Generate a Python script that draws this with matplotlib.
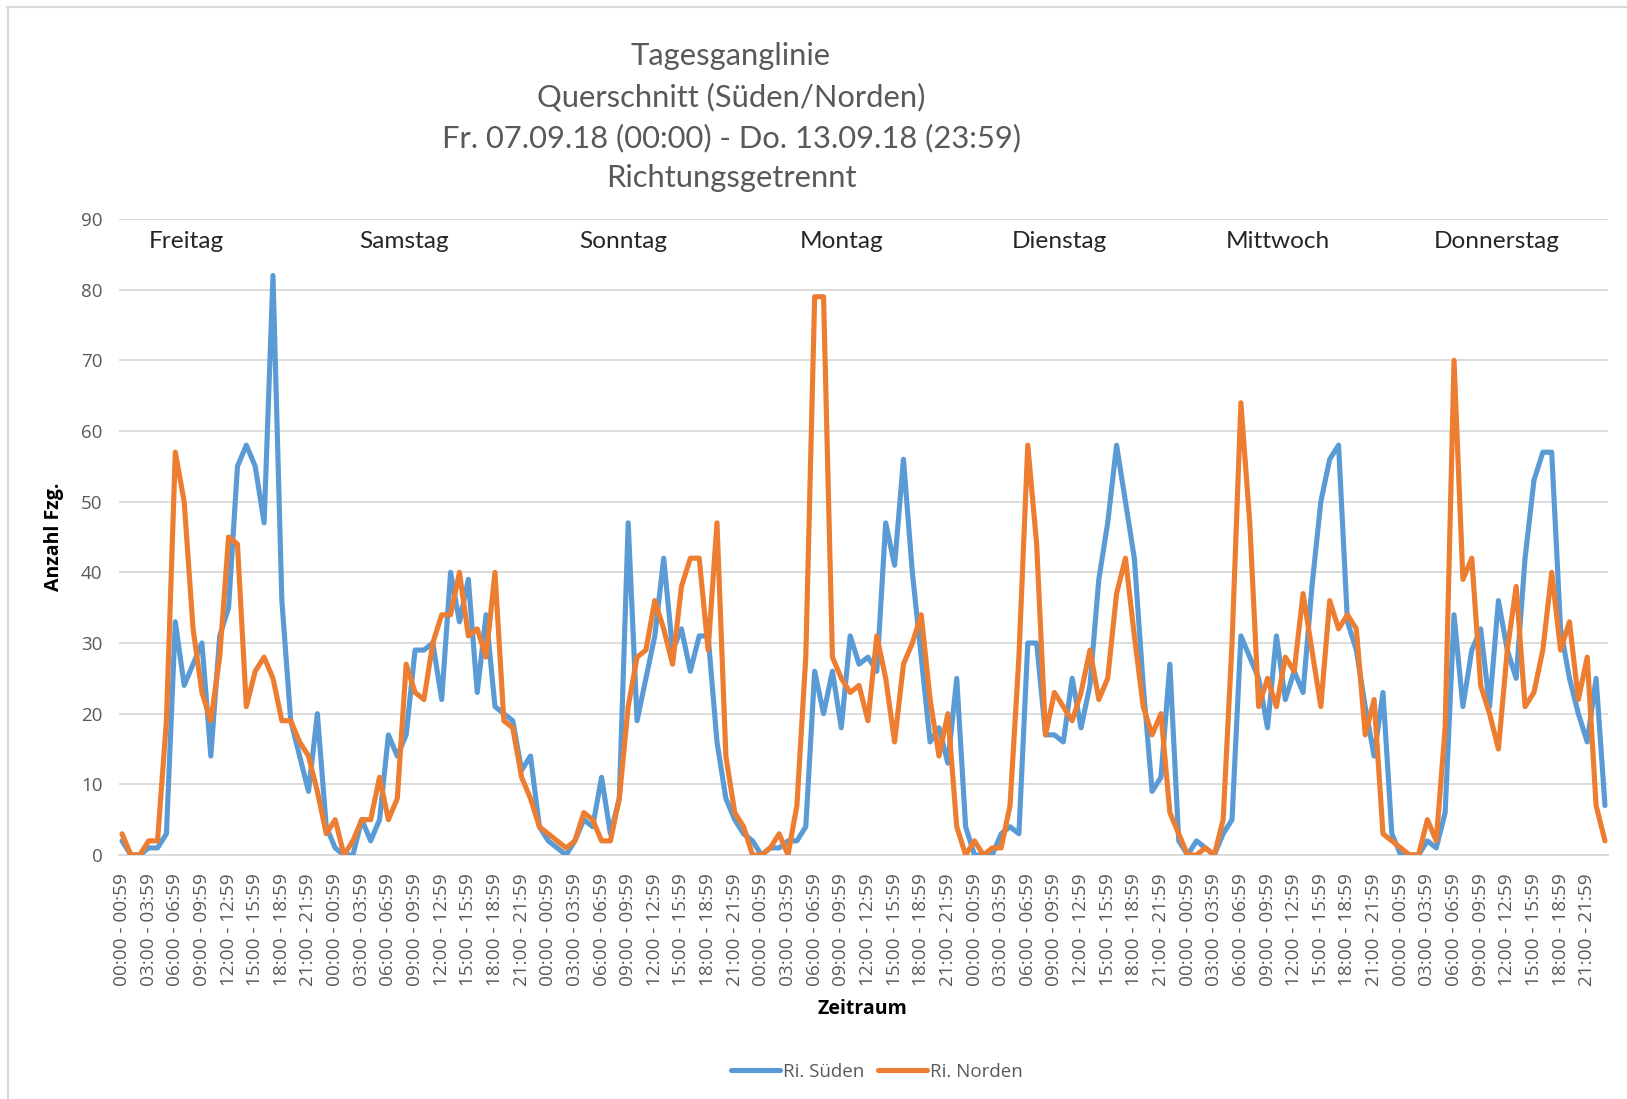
import matplotlib
matplotlib.use("Agg")
import matplotlib.pyplot as plt
from matplotlib.lines import Line2D

# ---------------- data ----------------
days = ["Freitag", "Samstag", "Sonntag", "Montag", "Dienstag", "Mittwoch", "Donnerstag"]
hours = [f"{h:02d}:00 - {h:02d}:59" for h in range(24)]
categories = hours * 7

sueden = [
    2, 0, 0, 1, 1, 3, 33, 24, 27, 30, 14, 31, 35, 55, 58, 55, 47, 82, 36, 19, 14, 9, 20, 4,
    1, 0, 0, 5, 2, 5, 17, 14, 17, 29, 29, 30, 22, 40, 33, 39, 23, 34, 21, 20, 19, 12, 14, 4,
    2, 1, 0, 2, 5, 4, 11, 3, 8, 47, 19, 25, 31, 42, 29, 32, 26, 31, 31, 16, 8, 5, 3, 2,
    0, 1, 1, 2, 2, 4, 26, 20, 26, 18, 31, 27, 28, 26, 47, 41, 56, 40, 28, 16, 18, 13, 25, 4,
    0, 0, 0, 3, 4, 3, 30, 30, 17, 17, 16, 25, 18, 24, 39, 47, 58, 50, 42, 24, 9, 11, 27, 2,
    0, 2, 1, 0, 3, 5, 31, 28, 25, 18, 31, 22, 26, 23, 38, 50, 56, 58, 33, 29, 21, 14, 23, 3,
    0, 0, 0, 2, 1, 6, 34, 21, 29, 32, 21, 36, 29, 25, 42, 53, 57, 57, 32, 25, 20, 16, 25, 7,
]
norden = [
    3, 0, 0, 2, 2, 19, 57, 50, 32, 23, 19, 28, 45, 44, 21, 26, 28, 25, 19, 19, 16, 14, 9, 3,
    5, 0, 2, 5, 5, 11, 5, 8, 27, 23, 22, 30, 34, 34, 40, 31, 32, 28, 40, 19, 18, 11, 8, 4,
    3, 2, 1, 2, 6, 5, 2, 2, 8, 21, 28, 29, 36, 32, 27, 38, 42, 42, 29, 47, 14, 6, 4, 0,
    0, 1, 3, 0, 7, 28, 79, 79, 28, 25, 23, 24, 19, 31, 25, 16, 27, 30, 34, 22, 14, 20, 4, 0,
    2, 0, 1, 1, 7, 28, 58, 44, 17, 23, 21, 19, 23, 29, 22, 25, 37, 42, 31, 21, 17, 20, 6, 3,
    0, 0, 1, 0, 5, 30, 64, 47, 21, 25, 21, 28, 26, 37, 29, 21, 36, 32, 34, 32, 17, 22, 3, 2,
    1, 0, 0, 5, 2, 18, 70, 39, 42, 24, 20, 15, 29, 38, 21, 23, 29, 40, 29, 33, 22, 28, 7, 2,
]
series_names = ["Ri. Süden", "Ri. Norden"]
yticks = [0, 10, 20, 30, 40, 50, 60, 70, 80, 90]
title_lines = ["Tagesganglinie", "Querschnitt (Süden/Norden)",
               "Fr. 07.09.18 (00:00) - Do. 13.09.18 (23:59)", "Richtungsgetrennt"]

# ---------------- style ----------------
BLUE = "#5B9BD5"
ORANGE = "#ED7D31"
GRAY = "#595959"
GRID = "#D9D9D9"
TITLE_FONT = ["Lato", "DejaVu Sans"]
TEXT_FONT = ["Open Sans", "DejaVu Sans"]

W, H = 1627, 1099
fig = plt.figure(figsize=(W / 100, H / 100), dpi=100)
fig.patch.set_facecolor("white")

# chart area border (top and left visible)
fig.add_artist(Line2D([7 / W, 1.0], [1 - 7 / H, 1 - 7 / H], color=GRID, lw=1.5))
fig.add_artist(Line2D([8 / W, 8 / W], [0.0, 1 - 7 / H], color=GRID, lw=1.5))

ax_l, ax_r, ax_t, ax_b = 119, 1608, 219, 855
ax = fig.add_axes([ax_l / W, 1 - ax_b / H, (ax_r - ax_l) / W, (ax_b - ax_t) / H])

x = list(range(len(categories)))
kw = dict(lw=3.7, solid_joinstyle="round", solid_capstyle="round")
ax.plot(x, sueden, color=BLUE, label=series_names[0], zorder=3, **kw)
ax.plot(x, norden, color=ORANGE, label=series_names[1], zorder=4, **kw)

ax.set_xlim(-0.34, len(categories) - 1 + 0.34)
ax.set_ylim(0, 90)
ax.set_yticks(yticks)
ax.set_yticklabels([str(v) for v in yticks], fontsize=13.5, color=GRAY, family=TEXT_FONT)
ax.grid(axis="y", color=GRID, lw=1.3, zorder=0)
ax.set_axisbelow(True)

tick_idx = x[::3]
ax.set_xticks(tick_idx)
ax.set_xticklabels([categories[i] for i in tick_idx], rotation=90, fontsize=13.7,
                   color=GRAY, family=TEXT_FONT, va="top", ha="center")
ax.tick_params(axis="both", length=0)
ax.tick_params(axis="x", pad=13)
ax.tick_params(axis="y", pad=12)
for s in ["top", "right", "left"]:
    ax.spines[s].set_visible(False)
ax.spines["bottom"].set_color(GRID)
ax.spines["bottom"].set_linewidth(1.3)

# day labels
for i, d in enumerate(days):
    ax.text(0.045 + i * 0.1467, 0.965, d, transform=ax.transAxes, ha="center", va="center",
            fontsize=17.6, color="#262626", family=TITLE_FONT)

# title
title_y = [56, 97, 138, 178]
for t, yy in zip(title_lines, title_y):
    fig.text(731 / W, 1 - yy / H, t, ha="center", va="center", fontsize=22.2,
             color=GRAY, family=TITLE_FONT)

# axis titles
fig.text(54 / W, 1 - 537 / H, "Anzahl Fzg.", rotation=90, ha="center", va="center",
         fontsize=14, fontweight="bold", color="black", family=TEXT_FONT)
fig.text(862 / W, 1 - 1009 / H, "Zeitraum", ha="center", va="center",
         fontsize=14, fontweight="bold", color="black", family=TEXT_FONT)

fig.legend(loc="center", bbox_to_anchor=(877 / W, 1 - 1072 / H), ncol=2, frameon=False,
           prop={"family": TEXT_FONT, "size": 13.5}, labelcolor=GRAY,
           handlelength=2.6, handletextpad=0.2, columnspacing=0.7)

fig.savefig("out.png", dpi=100, facecolor="white")
